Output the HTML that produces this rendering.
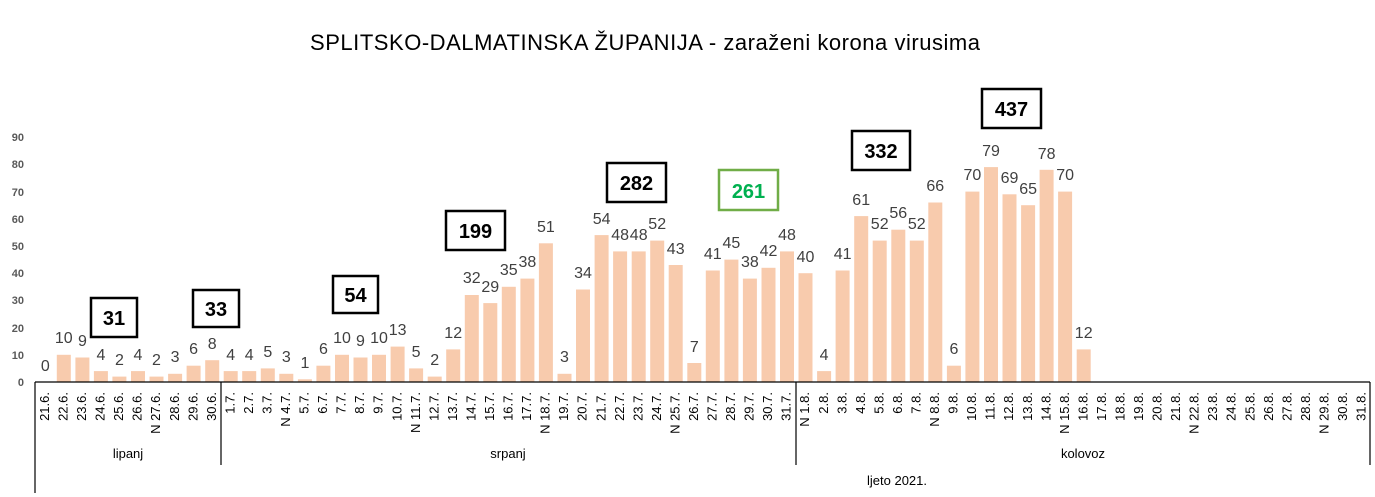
<!DOCTYPE html>
<html><head><meta charset="utf-8"><style>body{margin:0;background:#fff}svg{display:block}</style></head><body>
<svg width="1375" height="497" xmlns="http://www.w3.org/2000/svg" font-family="Liberation Sans, sans-serif">
<text x="645" y="50" font-size="22" text-anchor="middle" textLength="670" fill="#000">SPLITSKO-DALMATINSKA ŽUPANIJA - zaraženi korona virusima</text>
<g font-size="11" font-weight="bold" fill="#595959" text-anchor="end">
<text x="24" y="386">0</text><text x="24" y="359">10</text><text x="24" y="332">20</text><text x="24" y="304">30</text><text x="24" y="277">40</text><text x="24" y="250">50</text><text x="24" y="223">60</text><text x="24" y="196">70</text><text x="24" y="168">80</text><text x="24" y="141">90</text>
</g>
<g fill="#F8CBAD" transform="translate(1,0)">
<rect x="55.8" y="354.8" width="14" height="27.2"/><rect x="74.4" y="357.5" width="14" height="24.5"/><rect x="92.9" y="371.1" width="14" height="10.9"/><rect x="111.4" y="376.6" width="14" height="5.4"/><rect x="130" y="371.1" width="14" height="10.9"/><rect x="148.5" y="376.6" width="14" height="5.4"/><rect x="167.1" y="373.8" width="14" height="8.2"/><rect x="185.6" y="365.7" width="14" height="16.3"/><rect x="204.2" y="360.2" width="14" height="21.8"/>
<rect x="222.7" y="371.1" width="14" height="10.9"/><rect x="241.2" y="371.1" width="14" height="10.9"/><rect x="259.8" y="368.4" width="14" height="13.6"/><rect x="278.3" y="373.8" width="14" height="8.2"/><rect x="296.9" y="379.3" width="14" height="2.7"/><rect x="315.4" y="365.7" width="14" height="16.3"/><rect x="334" y="354.8" width="14" height="27.2"/><rect x="352.5" y="357.5" width="14" height="24.5"/><rect x="371" y="354.8" width="14" height="27.2"/><rect x="389.6" y="346.6" width="14" height="35.4"/><rect x="408.1" y="368.4" width="14" height="13.6"/><rect x="426.7" y="376.6" width="14" height="5.4"/><rect x="445.2" y="349.4" width="14" height="32.6"/><rect x="463.8" y="295" width="14" height="87"/><rect x="482.3" y="303.1" width="14" height="78.9"/><rect x="500.8" y="286.8" width="14" height="95.2"/><rect x="519.4" y="278.6" width="14" height="103.4"/><rect x="537.9" y="243.3" width="14" height="138.7"/><rect x="556.5" y="373.8" width="14" height="8.2"/><rect x="575" y="289.5" width="14" height="92.5"/><rect x="593.6" y="235.1" width="14" height="146.9"/><rect x="612.1" y="251.4" width="14" height="130.6"/><rect x="630.7" y="251.4" width="14" height="130.6"/><rect x="649.2" y="240.6" width="14" height="141.4"/><rect x="667.7" y="265" width="14" height="117"/><rect x="686.3" y="363" width="14" height="19"/><rect x="704.8" y="270.5" width="14" height="111.5"/><rect x="723.4" y="259.6" width="14" height="122.4"/><rect x="741.9" y="278.6" width="14" height="103.4"/><rect x="760.5" y="267.8" width="14" height="114.2"/><rect x="779" y="251.4" width="14" height="130.6"/>
<rect x="797.5" y="273.2" width="14" height="108.8"/><rect x="816.1" y="371.1" width="14" height="10.9"/><rect x="834.6" y="270.5" width="14" height="111.5"/><rect x="853.2" y="216.1" width="14" height="165.9"/><rect x="871.7" y="240.6" width="14" height="141.4"/><rect x="890.3" y="229.7" width="14" height="152.3"/><rect x="908.8" y="240.6" width="14" height="141.4"/><rect x="927.3" y="202.5" width="14" height="179.5"/><rect x="945.9" y="365.7" width="14" height="16.3"/><rect x="964.4" y="191.6" width="14" height="190.4"/><rect x="983" y="167.1" width="14" height="214.9"/><rect x="1001.5" y="194.3" width="14" height="187.7"/><rect x="1020.1" y="205.2" width="14" height="176.8"/><rect x="1038.6" y="169.8" width="14" height="212.2"/><rect x="1057.1" y="191.6" width="14" height="190.4"/><rect x="1075.7" y="349.4" width="14" height="32.6"/>
</g>
<g font-size="16" fill="#404040" text-anchor="middle" transform="translate(1,0)">
<text x="44.3" y="371">0</text><text x="62.8" y="343">10</text><text x="81.4" y="346">9</text><text x="99.9" y="360">4</text><text x="118.4" y="365">2</text><text x="137" y="360">4</text><text x="155.5" y="365">2</text><text x="174.1" y="362">3</text><text x="192.6" y="354">6</text><text x="211.2" y="349">8</text>
<text x="229.7" y="360">4</text><text x="248.2" y="360">4</text><text x="266.8" y="357">5</text><text x="285.3" y="362">3</text><text x="303.9" y="368">1</text><text x="322.4" y="354">6</text><text x="341" y="343">10</text><text x="359.5" y="346">9</text><text x="378" y="343">10</text><text x="396.6" y="335">13</text><text x="415.1" y="357">5</text><text x="433.7" y="365">2</text><text x="452.2" y="338">12</text><text x="470.8" y="283">32</text><text x="489.3" y="292">29</text><text x="507.8" y="275">35</text><text x="526.4" y="267">38</text><text x="544.9" y="232">51</text><text x="563.5" y="362">3</text><text x="582" y="278">34</text><text x="600.6" y="224">54</text><text x="619.1" y="240">48</text><text x="637.7" y="240">48</text><text x="656.2" y="229">52</text><text x="674.7" y="254">43</text><text x="693.3" y="352">7</text><text x="711.8" y="259">41</text><text x="730.4" y="248">45</text><text x="748.9" y="267">38</text><text x="767.5" y="256">42</text><text x="786" y="240">48</text>
<text x="804.5" y="262">40</text><text x="823.1" y="360">4</text><text x="841.6" y="259">41</text><text x="860.2" y="205">61</text><text x="878.7" y="229">52</text><text x="897.3" y="218">56</text><text x="915.8" y="229">52</text><text x="934.3" y="191">66</text><text x="952.9" y="354">6</text><text x="971.4" y="180">70</text><text x="990" y="156">79</text><text x="1008.5" y="183">69</text><text x="1027.1" y="194">65</text><text x="1045.6" y="159">78</text><text x="1064.1" y="180">70</text><text x="1082.7" y="338">12</text>
</g>
<g stroke="#000" stroke-width="1.2">
<line x1="35" y1="382" x2="1370" y2="382"/>
<line x1="35" y1="382" x2="35" y2="493"/>
<line x1="221" y1="382" x2="221" y2="465"/>
<line x1="796" y1="382" x2="796" y2="465"/>
<line x1="1370" y1="382" x2="1370" y2="465"/>
</g>
<g font-size="13" fill="#000" text-anchor="end" transform="translate(0.5,0)">
<text transform="translate(48.5,392) rotate(-90)">21.6.</text><text transform="translate(67,392) rotate(-90)">22.6.</text><text transform="translate(85.6,392) rotate(-90)">23.6.</text><text transform="translate(104.1,392) rotate(-90)">24.6.</text><text transform="translate(122.6,392) rotate(-90)">25.6.</text><text transform="translate(141.2,392) rotate(-90)">26.6.</text><text transform="translate(159.7,392) rotate(-90)">N 27.6.</text><text transform="translate(178.3,392) rotate(-90)">28.6.</text><text transform="translate(196.8,392) rotate(-90)">29.6.</text><text transform="translate(215.4,392) rotate(-90)">30.6.</text>
<text transform="translate(233.9,392) rotate(-90)">1.7.</text><text transform="translate(252.4,392) rotate(-90)">2.7.</text><text transform="translate(271,392) rotate(-90)">3.7.</text><text transform="translate(289.5,392) rotate(-90)">N 4.7.</text><text transform="translate(308.1,392) rotate(-90)">5.7.</text><text transform="translate(326.6,392) rotate(-90)">6.7.</text><text transform="translate(345.2,392) rotate(-90)">7.7.</text><text transform="translate(363.7,392) rotate(-90)">8.7.</text><text transform="translate(382.2,392) rotate(-90)">9.7.</text><text transform="translate(400.8,392) rotate(-90)">10.7.</text><text transform="translate(419.3,392) rotate(-90)">N 11.7.</text><text transform="translate(437.9,392) rotate(-90)">12.7.</text><text transform="translate(456.4,392) rotate(-90)">13.7.</text><text transform="translate(475,392) rotate(-90)">14.7.</text><text transform="translate(493.5,392) rotate(-90)">15.7.</text><text transform="translate(512,392) rotate(-90)">16.7.</text><text transform="translate(530.6,392) rotate(-90)">17.7.</text><text transform="translate(549.1,392) rotate(-90)">N 18.7.</text><text transform="translate(567.7,392) rotate(-90)">19.7.</text><text transform="translate(586.2,392) rotate(-90)">20.7.</text><text transform="translate(604.8,392) rotate(-90)">21.7.</text><text transform="translate(623.3,392) rotate(-90)">22.7.</text><text transform="translate(641.9,392) rotate(-90)">23.7.</text><text transform="translate(660.4,392) rotate(-90)">24.7.</text><text transform="translate(678.9,392) rotate(-90)">N 25.7.</text><text transform="translate(697.5,392) rotate(-90)">26.7.</text><text transform="translate(716,392) rotate(-90)">27.7.</text><text transform="translate(734.6,392) rotate(-90)">28.7.</text><text transform="translate(753.1,392) rotate(-90)">29.7.</text><text transform="translate(771.7,392) rotate(-90)">30.7.</text><text transform="translate(790.2,392) rotate(-90)">31.7.</text>
<text transform="translate(808.7,392) rotate(-90)">N 1.8.</text><text transform="translate(827.3,392) rotate(-90)">2.8.</text><text transform="translate(845.8,392) rotate(-90)">3.8.</text><text transform="translate(864.4,392) rotate(-90)">4.8.</text><text transform="translate(882.9,392) rotate(-90)">5.8.</text><text transform="translate(901.5,392) rotate(-90)">6.8.</text><text transform="translate(920,392) rotate(-90)">7.8.</text><text transform="translate(938.5,392) rotate(-90)">N 8.8.</text><text transform="translate(957.1,392) rotate(-90)">9.8.</text><text transform="translate(975.6,392) rotate(-90)">10.8.</text><text transform="translate(994.2,392) rotate(-90)">11.8.</text><text transform="translate(1012.7,392) rotate(-90)">12.8.</text><text transform="translate(1031.3,392) rotate(-90)">13.8.</text><text transform="translate(1049.8,392) rotate(-90)">14.8.</text><text transform="translate(1068.3,392) rotate(-90)">N 15.8.</text><text transform="translate(1086.9,392) rotate(-90)">16.8.</text><text transform="translate(1105.4,392) rotate(-90)">17.8.</text><text transform="translate(1124,392) rotate(-90)">18.8.</text><text transform="translate(1142.5,392) rotate(-90)">19.8.</text><text transform="translate(1161.1,392) rotate(-90)">20.8.</text><text transform="translate(1179.6,392) rotate(-90)">21.8.</text><text transform="translate(1198.1,392) rotate(-90)">N 22.8.</text><text transform="translate(1216.7,392) rotate(-90)">23.8.</text><text transform="translate(1235.2,392) rotate(-90)">24.8.</text><text transform="translate(1253.8,392) rotate(-90)">25.8.</text><text transform="translate(1272.3,392) rotate(-90)">26.8.</text><text transform="translate(1290.9,392) rotate(-90)">27.8.</text><text transform="translate(1309.4,392) rotate(-90)">28.8.</text><text transform="translate(1328,392) rotate(-90)">N 29.8.</text><text transform="translate(1346.5,392) rotate(-90)">30.8.</text><text transform="translate(1365,392) rotate(-90)">31.8.</text>
</g>
<g font-size="13" fill="#000" text-anchor="middle">
<text x="128" y="458">lipanj</text><text x="508" y="458">srpanj</text><text x="1083" y="458">kolovoz</text><text x="897" y="485">ljeto 2021.</text>
</g>
<g fill="#fff" stroke="#000" stroke-width="2.5">
<rect x="91" y="298" width="46" height="39"/><rect x="193" y="290" width="46" height="37"/><rect x="333" y="276" width="45" height="37"/><rect x="446" y="211" width="59" height="39"/><rect x="607" y="163" width="59" height="39"/><rect x="852" y="131" width="58" height="39"/><rect x="982" y="89" width="59" height="39"/>
</g>
<rect x="719" y="170" width="59" height="40" fill="#fff" stroke="#70AD47" stroke-width="2.5"/>
<g font-size="20" font-weight="bold" text-anchor="middle" fill="#000">
<text x="114" y="325">31</text><text x="216" y="316">33</text><text x="355.5" y="302">54</text><text x="475.5" y="238">199</text><text x="636.5" y="190">282</text><text x="881" y="158">332</text><text x="1011.5" y="116">437</text>
<text x="748.5" y="198" fill="#00B050">261</text>
</g>
</svg>
</body></html>
